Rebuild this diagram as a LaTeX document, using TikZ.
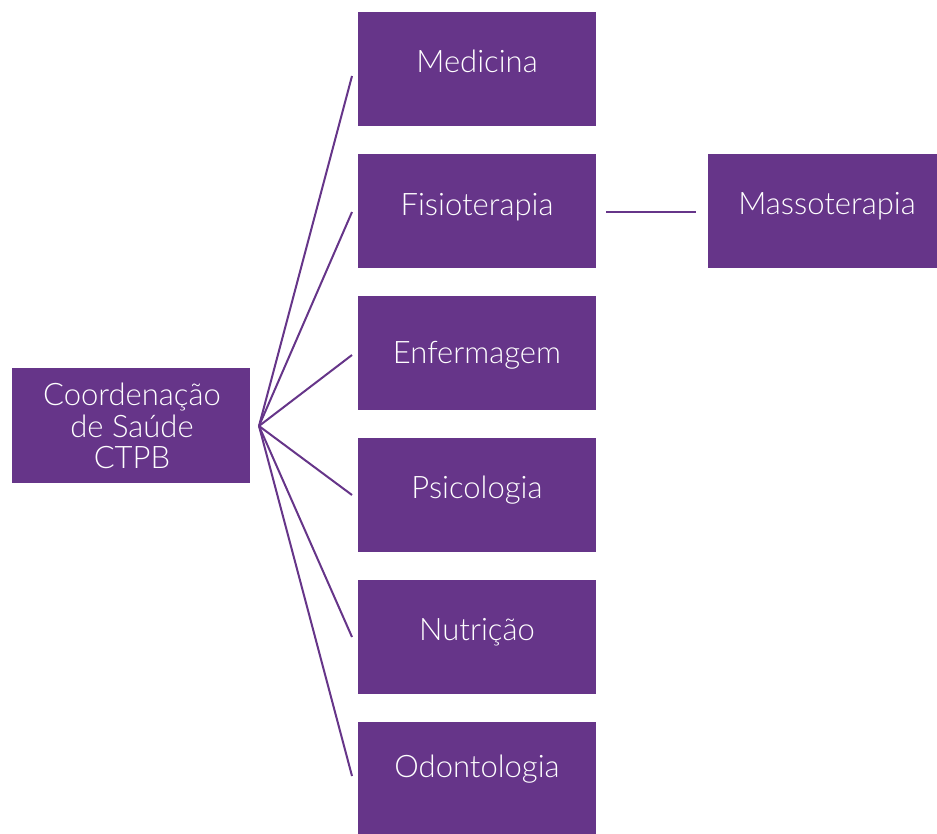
\documentclass[tikz,border=0pt]{standalone}
\usepackage{fontspec}
\setmainfont{Lato}[UprightFont={* Light}]
\definecolor{boxpurple}{RGB}{102,53,137}
\begin{document}
\begin{tikzpicture}[x=1pt,y=-1pt,
  box/.style={fill=boxpurple, draw=none, minimum width=238pt, minimum height=114pt, inner sep=0pt, anchor=north west},
  txt/.style={text=white, font=\fontsize{31}{32}\selectfont, anchor=base, inner sep=0pt},
  conn/.style={draw=boxpurple, line width=2pt}]
\useasboundingbox (0,0) rectangle (937,833);
% main box
\node[box, minimum height=115pt] (main) at (12,368) {};
\node[txt] at (132,405) {Coordenação};
\node[txt] at (132,437) {de Saúde};
\node[txt] at (132,468) {CTPB};
% right boxes
\node[box] (med) at (358,12) {};
\node[txt] at (477,72) {Medicina};
\node[box] (fis) at (358,154) {};
\node[txt] at (477,215) {Fisioterapia};
\node[box] (enf) at (358,296) {};
\node[txt] at (477,363) {Enfermagem};
\node[box] (psi) at (358,438) {};
\node[txt] at (477,498) {Psicologia};
\node[box] (nut) at (358,580) {};
\node[txt] at (477,640) {Nutrição};
\node[box] (odo) at (358,722) {};
\node[txt] at (477,777) {Odontologia};
\node[box, minimum width=229pt] (mas) at (708,154) {};
\node[txt] at (827,214) {Massoterapia};
% fan connectors
\coordinate (apex) at (259,426);
\coordinate (e1) at (352,76);
\coordinate (e2) at (352,212);
\coordinate (e3) at (352,355);
\coordinate (e4) at (352,495);
\coordinate (e5) at (352,637);
\coordinate (e6) at (352,776);
\foreach \e in {e1,e2,e3,e4,e5,e6} \draw[conn] (apex) -- (\e);
\draw[conn] ([xshift=10pt]fis.east |- 0,212) -- ([xshift=-12pt]mas.west |- 0,212);
\end{tikzpicture}
\end{document}
